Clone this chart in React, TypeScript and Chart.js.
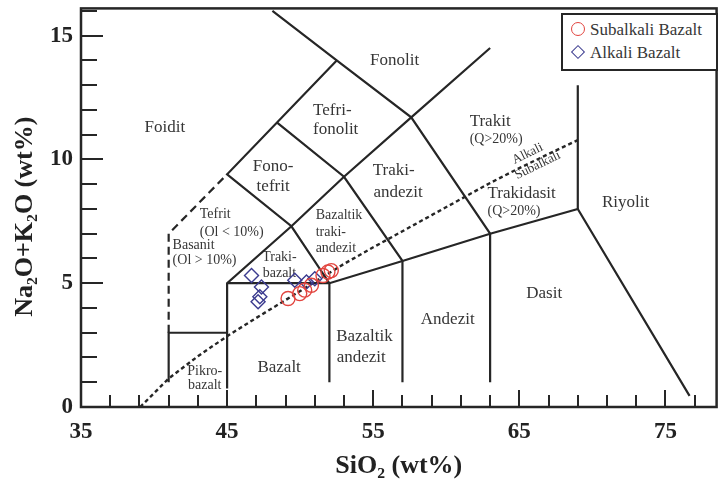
import { useEffect, useRef } from "react";
import { Chart, registerables } from "chart.js";

Chart.register(...registerables);

// Sample analyses: SiO2 (wt%) against total alkalis Na2O+K2O (wt%)
const subalkaliSiO2 = [49.17, 49.97, 50.31, 50.77, 51.56, 51.9, 52.13];
const subalkaliTotalAlkali = [4.38, 4.58, 4.72, 4.92, 5.31, 5.45, 5.51];
const alkaliSiO2 = [46.67, 47.35, 47.24, 47.12, 49.63, 50.43, 51.0];
const alkaliTotalAlkali = [5.31, 4.85, 4.45, 4.25, 5.12, 5.05, 5.18];

// Axis ranges and ticks
const xMin = 35;
const xMax = 78.5;
const yMin = 0;
const yMax = 16.1;
const xTickValues = [35, 37, 39, 41, 43, 45, 47, 49, 51, 53, 55, 57, 59, 61, 63, 65, 67, 69, 71, 73, 75, 77];
const yTickValues = [0, 1, 2, 3, 4, 5, 6, 7, 8, 9, 10, 11, 12, 13, 14, 15, 16];
const xTickLabels = [35, 45, 55, 65, 75];
const yTickLabels = [0, 5, 10, 15];

type Vertex = [number, number];

// TAS field boundaries, vertices as [SiO2, Na2O+K2O]
const pikroBasaltEdge: Vertex[] = [[41, 1.0], [41, 3], [45, 3]];
const trachyBasaltEdge: Vertex[] = [[45, 0.75], [45, 5], [49.4, 7.3], [53, 9.3], [57.6, 11.7], [63, 14.5]];
const subalkalineTopEdge: Vertex[] = [[45, 5], [52, 5], [57, 5.9], [63, 7], [69, 8], [76.65, 0.45]];
const tephriteEdge: Vertex[] = [[52, 1.0], [52, 5], [49.4, 7.3], [45, 9.4], [52.5, 14]];
const phonoliteEdge: Vertex[] = [[48.1, 16], [52.5, 14], [57.6, 11.7], [63, 7], [63, 1.0]];
const andesiteEdge: Vertex[] = [[57, 1.0], [57, 5.9], [53, 9.3], [48.4, 11.5]];
const rhyoliteEdge: Vertex[] = [[69, 8], [69, 13]];
const basaniteEdge: Vertex[] = [[41, 3], [41, 7], [45, 9.4]];

// Alkaline / subalkaline divide
const divideSiO2 = [39.05, 41, 43, 45, 47, 49, 51, 53, 55, 57, 59, 61, 63, 65, 67, 69];
const divideTotalAlkali = [0, 1.15, 2.05, 2.86, 3.6, 4.32, 5.05, 5.78, 6.45, 7.1, 7.75, 8.4, 9.05, 9.65, 10.22, 10.78];

// Field names anchored in data coordinates [text, SiO2, Na2O+K2O]
type Anchor = [string, number, number];
const mainFieldNames: Anchor[] = [
  ["Foidit", 40.74, 11.3],
  ["Fonolit", 56.46, 14.0],
  ["Tefri-", 52.2, 11.98],
  ["fonolit", 52.43, 11.22],
  ["Fono-", 48.15, 9.7],
  ["tefrit", 48.15, 8.92],
  ["Traki-", 56.4, 9.56],
  ["andezit", 56.7, 8.66],
  ["Riyolit", 72.27, 8.24],
  ["Dasit", 66.7, 4.58],
  ["Andezit", 60.1, 3.52],
  ["Bazalt", 48.56, 1.59],
  ["Bazaltik", 54.4, 2.86],
  ["andezit", 54.18, 1.99],
];
const mainFieldNamesLeft: Anchor[] = [
  ["Trakit", 61.6, 11.55],
  ["Trakidasit", 62.82, 8.63],
];
const minorFieldNames: Anchor[] = [
  ["Traki-", 48.58, 6.04],
  ["bazalt", 48.58, 5.38],
  ["Pikro-", 43.47, 1.46],
  ["bazalt", 43.47, 0.86],
];
const minorFieldNamesLeft: Anchor[] = [
  ["(Q>20%)", 61.6, 10.82],
  ["(Q>20%)", 62.82, 7.9],
  ["Tefrit", 43.13, 7.77],
  ["(Ol < 10%)", 43.13, 7.07],
  ["Basanit", 41.27, 6.55],
  ["(Ol > 10%)", 41.27, 5.92],
  ["Bazaltik", 51.06, 7.75],
  ["traki-", 51.06, 7.07],
  ["andezit", 51.06, 6.4],
];
const divideNames: Anchor[] = [
  ["Alkali", 65.57, 10.23],
  ["Subalkali", 66.26, 9.76],
];

const yTitle = "Na₂O+K₂O (wt%)";
const xTitle = "SiO₂ (wt%)";

const INK = "#262626";
const LABEL = "#363636";
const SERIF = '"Liberation Serif", "Times New Roman", serif';
const RED = "#e2453f";
const BLUE = "#3b3b8f";

// Visible page size and the plot frame edges on it
const PAGE_W = 718;
const PAGE_H = 486;
const PLOT_TOP = 5;
const PLOT_RIGHT = 717;

const toPoints = (v: Vertex[]) => v.map(([x, y]) => ({ x, y }));

const boundary = (v: Vertex[], dash: number[] = []) => ({
  type: "scatter" as const,
  data: toPoints(v),
  showLine: true,
  borderColor: INK,
  borderWidth: 2.2,
  borderDash: dash,
  pointRadius: 0,
  pointHoverRadius: 0,
  fill: false,
  tension: 0,
  order: 2,
});

const fieldNamePlugin = {
  id: "fieldNames",
  beforeDatasetsDraw(chart: any) {
    const { ctx, scales } = chart;
    const sx = scales.x;
    const sy = scales.y;
    const put = (list: Anchor[], size: number, align: CanvasTextAlign) => {
      ctx.font = `${size}px ${SERIF}`;
      ctx.textAlign = align;
      for (const [t, x, y] of list) {
        ctx.fillText(t, sx.getPixelForValue(x), sy.getPixelForValue(y));
      }
    };
    ctx.save();
    ctx.fillStyle = LABEL;
    ctx.textBaseline = "middle";
    put(mainFieldNames, 17, "center");
    put(mainFieldNamesLeft, 17, "left");
    put(minorFieldNames, 14, "center");
    put(minorFieldNamesLeft, 14, "left");
    ctx.font = `13px ${SERIF}`;
    ctx.textAlign = "center";
    for (const [t, x, y] of divideNames) {
      ctx.save();
      ctx.translate(sx.getPixelForValue(x), sy.getPixelForValue(y));
      ctx.rotate((-26 * Math.PI) / 180);
      ctx.fillText(t, 0, 0);
      ctx.restore();
    }
    ctx.restore();
  },
};

// Inward tick marks, the plot frame and the vertical axis title
const framePlugin = {
  id: "frame",
  afterDraw(chart: any) {
    const { ctx, chartArea: a, scales } = chart;
    ctx.save();
    ctx.strokeStyle = INK;
    ctx.lineWidth = 2;
    ctx.beginPath();
    for (const t of scales.x.ticks) {
      const px = Math.round(scales.x.getPixelForValue(t.value));
      const len = xTickLabels.includes(t.value) ? 17 : 12;
      ctx.moveTo(px, a.bottom);
      ctx.lineTo(px, a.bottom - len);
    }
    for (const t of scales.y.ticks) {
      const py = Math.round(scales.y.getPixelForValue(t.value));
      const len = yTickLabels.includes(t.value) ? 22 : 16;
      ctx.moveTo(a.left, py);
      ctx.lineTo(a.left + len, py);
    }
    ctx.stroke();
    ctx.lineWidth = 2.5;
    ctx.strokeRect(a.left, a.top, a.right - a.left, a.bottom - a.top);

    // vertical axis title, centred a little below the middle of the axis
    ctx.fillStyle = "#222";
    ctx.font = `bold 26px ${SERIF}`;
    ctx.textAlign = "center";
    ctx.textBaseline = "middle";
    ctx.translate(25, (a.top + a.bottom) / 2 + 9);
    ctx.rotate(-Math.PI / 2);
    ctx.fillText(yTitle, 0, 0);
    ctx.restore();
  },
};

function buildChart(canvas: HTMLCanvasElement) {
  return new Chart(canvas, {
    type: "scatter",
    data: {
      datasets: [
        {
          label: "Subalkali Bazalt",
          data: subalkaliSiO2.map((x, i) => ({ x, y: subalkaliTotalAlkali[i] })),
          pointStyle: "circle",
          pointRadius: 7,
          pointBorderWidth: 1.4,
          pointBorderColor: RED,
          pointBackgroundColor: "rgba(0,0,0,0)",
          order: 0,
        },
        {
          label: "Alkali Bazalt",
          data: alkaliSiO2.map((x, i) => ({ x, y: alkaliTotalAlkali[i] })),
          pointStyle: "rectRot",
          pointRadius: 7,
          pointBorderWidth: 1.4,
          pointBorderColor: BLUE,
          pointBackgroundColor: "rgba(0,0,0,0)",
          order: 1,
        },
        boundary(pikroBasaltEdge),
        boundary(trachyBasaltEdge),
        boundary(subalkalineTopEdge),
        boundary(tephriteEdge),
        boundary(phonoliteEdge),
        boundary(andesiteEdge),
        boundary(rhyoliteEdge),
        boundary(basaniteEdge, [8, 5]),
        {
          ...boundary(divideSiO2.map((x, i) => [x, divideTotalAlkali[i]] as Vertex), [4, 3]),
          borderWidth: 2.4,
        },
      ],
    },
    options: {
      animation: false,
      responsive: false,
      devicePixelRatio: 1,
      layout: { padding: { top: PLOT_TOP, right: 0, left: 0, bottom: 0 } },
      plugins: {
        legend: { display: false },
        tooltip: { enabled: false },
      },
      scales: {
        x: {
          type: "linear",
          min: xMin,
          max: xMax,
          afterBuildTicks: (s: any) => {
            s.ticks = xTickValues.map((value) => ({ value }));
          },
          afterFit: (s: any) => {
            s.height = 79;
            s.paddingLeft = 0;
            s.paddingRight = 0;
          },
          grid: { display: false, drawTicks: false },
          border: { display: false },
          ticks: {
            autoSkip: false,
            maxRotation: 0,
            padding: 11,
            color: "#222",
            font: { family: SERIF, size: 23, weight: "bold" },
            callback: (v: any) => (xTickLabels.includes(Number(v)) ? String(v) : ""),
          },
          title: {
            display: true,
            text: xTitle,
            color: "#222",
            font: { family: SERIF, size: 26, weight: "bold" },
            padding: { top: 0, bottom: 4 },
          },
        },
        y: {
          type: "linear",
          min: yMin,
          max: yMax,
          afterBuildTicks: (s: any) => {
            s.ticks = yTickValues.map((value) => ({ value }));
          },
          afterFit: (s: any) => {
            s.width = 81;
            s.paddingTop = 0;
            s.paddingBottom = 0;
          },
          grid: { display: false, drawTicks: false },
          border: { display: false },
          ticks: {
            autoSkip: false,
            padding: 8,
            color: "#222",
            font: { family: SERIF, size: 23, weight: "bold" },
            callback: (v: any) => (yTickLabels.includes(Number(v)) ? String(v) : ""),
          },
          title: { display: false },
        },
      },
    },
    plugins: [fieldNamePlugin, framePlugin],
  });
}

export default function App() {
  const canvasRef = useRef<HTMLCanvasElement>(null);

  useEffect(() => {
    const canvas = canvasRef.current;
    if (!canvas) return;

    canvas.width = PAGE_W;
    canvas.height = PAGE_H;
    let chart = buildChart(canvas);

    // The layout keeps a small right margin; widen the canvas (the overflow is
    // clipped by the wrapper) until the plot frame reaches its right edge.
    for (let i = 0; i < 3; i++) {
      const d = Math.round(PLOT_RIGHT - chart.chartArea.right);
      if (d === 0) break;
      const w = chart.width + d;
      chart.destroy();
      canvas.style.width = "";
      canvas.style.height = "";
      canvas.width = w;
      canvas.height = PAGE_H;
      chart = buildChart(canvas);
    }

    return () => chart.destroy();
  }, []);

  const row = (top: number): React.CSSProperties => ({
    position: "absolute",
    left: 27,
    top,
    lineHeight: "20px",
    whiteSpace: "nowrap",
  });

  return (
    <div
      style={{
        position: "fixed",
        left: 0,
        top: 0,
        width: PAGE_W,
        height: PAGE_H,
        overflow: "hidden",
        background: "#fff",
      }}
    >
      <canvas ref={canvasRef} width={PAGE_W} height={PAGE_H} style={{ display: "block" }} />
      <div
        style={{
          position: "absolute",
          left: 561,
          top: 13,
          width: 157,
          height: 58,
          boxSizing: "border-box",
          border: `2px solid ${INK}`,
          background: "#fff",
          fontFamily: SERIF,
          fontSize: 17,
          color: LABEL,
        }}
      >
        <span
          style={{
            position: "absolute",
            left: 8,
            top: 7,
            width: 14,
            height: 14,
            boxSizing: "border-box",
            borderRadius: "50%",
            border: `1.5px solid ${RED}`,
          }}
        />
        <span style={row(5)}>Subalkali Bazalt</span>
        <span
          style={{
            position: "absolute",
            left: 10,
            top: 32,
            width: 10,
            height: 10,
            boxSizing: "border-box",
            border: `1.5px solid ${BLUE}`,
            transform: "rotate(45deg)",
          }}
        />
        <span style={row(28)}>Alkali Bazalt</span>
      </div>
    </div>
  );
}
